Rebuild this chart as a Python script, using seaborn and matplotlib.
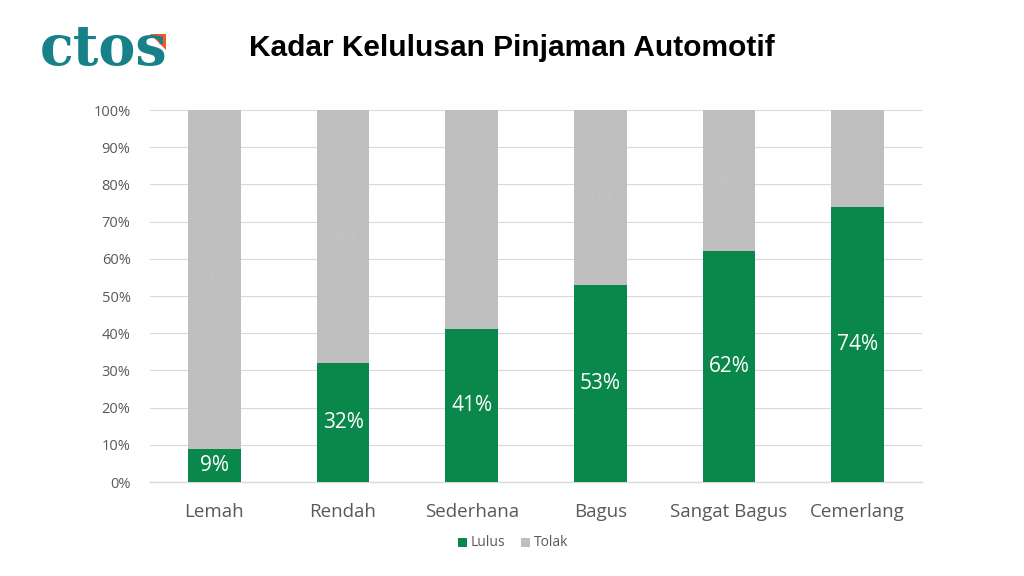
import matplotlib
matplotlib.use("Agg")
import matplotlib.pyplot as plt
import seaborn as sns
import pandas as pd
from matplotlib.patches import Polygon, Rectangle

categories = ["Lemah", "Rendah", "Sederhana", "Bagus", "Sangat Bagus", "Cemerlang"]
lulus = [9, 32, 41, 53, 62, 74]
tolak = [91, 68, 59, 47, 38, 26]
yticks = [0, 10, 20, 30, 40, 50, 60, 70, 80, 90, 100]

GREEN = "#0a874a"
GRAY = "#bfbfbf"
TXT = "#595959"

sns.set_theme(style="white")
plt.rcParams['font.family'] = ['Open Sans', 'DejaVu Sans']

df = pd.DataFrame({"cat": categories, "lulus": lulus, "tolak": tolak})
df["total"] = df["lulus"] + df["tolak"]

fig = plt.figure(figsize=(10.24, 5.76), dpi=100)
ax = fig.add_axes([150/1024, 94/576, 772/1024, 372/576])

sns.barplot(data=df, x="cat", y="total", color=GRAY, width=0.41, ax=ax, saturation=1,
            zorder=2, linewidth=0, edgecolor="none")
sns.barplot(data=df, x="cat", y="lulus", color=GREEN, width=0.41, ax=ax, saturation=1,
            zorder=3, linewidth=0, edgecolor="none")

for i, (l, t) in enumerate(zip(lulus, tolak)):
    ax.text(i, l / 2, f"{l}%", ha="center", va="center", color="white", fontsize=15, zorder=4)
    ax.text(i, l + t / 2, f"{t}%", ha="center", va="center", color="#c3c3c3", fontsize=10, zorder=4)

ax.set_xlim(-0.5, 5.5)
ax.set_ylim(0, 100)
ax.set_yticks(yticks)
ax.set_yticklabels([f"{v}%" for v in yticks], fontsize=10.5, color=TXT)
ax.tick_params(axis="x", labelsize=13.5, colors=TXT, length=0, pad=15)
ax.tick_params(axis="y", length=0, pad=14)
ax.set_xlabel("")
ax.set_ylabel("")
ax.grid(axis="y", color="#d9d9d9", linewidth=0.8, zorder=0)
ax.set_axisbelow(True)
for s in ["top", "right", "left"]:
    ax.spines[s].set_visible(False)
ax.spines["bottom"].set_color("#d9d9d9")
ax.spines["bottom"].set_linewidth(1.0)

# Title
fig.text(512/1024, 1 - 48/576, "Kadar Kelulusan Pinjaman Automotif", ha="center", va="center",
         fontsize=21.5, fontweight="bold", color="black", family=["Liberation Sans", "DejaVu Sans"])

# Legend
fig.patches.append(Rectangle((458/1024, 1 - 547/576), 9/1024, 9/576, transform=fig.transFigure,
                             facecolor=GREEN, edgecolor="none"))
fig.text(471/1024, 1 - 542/576, "Lulus", ha="left", va="center", fontsize=10, color=TXT)
fig.patches.append(Rectangle((521/1024, 1 - 547/576), 9/1024, 9/576, transform=fig.transFigure,
                             facecolor=GRAY, edgecolor="none"))
fig.text(534/1024, 1 - 542/576, "Tolak", ha="left", va="center", fontsize=10, color=TXT)

# Logo
fig.text(40/1024, 1 - 50/576, "ctos", ha="left", va="center", fontsize=40, fontweight="black",
         color="#17818a", family=["DejaVu Serif"])
fig.patches.append(Polygon([(150/1024, 1 - 34/576), (166/1024, 1 - 34/576), (166/1024, 1 - 50/576)],
                           closed=True, transform=fig.transFigure, facecolor="#f05a28", edgecolor="none"))

fig.savefig("out.png", dpi=100, facecolor="white")
